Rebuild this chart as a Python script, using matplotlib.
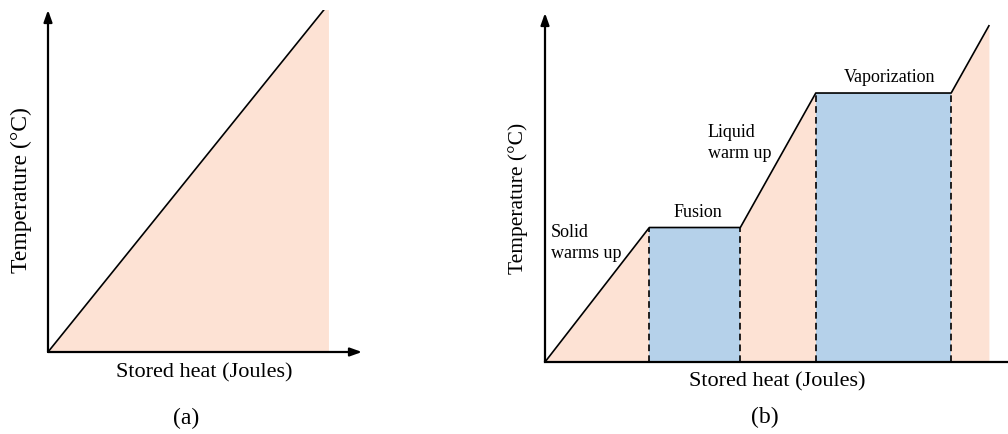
import matplotlib
matplotlib.use("Agg")
import matplotlib.pyplot as plt

# ---- data ----
heat_a = [0, 102]          # stored heat (arbitrary units), panel (a)
temp_a = [0, 102]          # temperature (arbitrary units), panel (a)

heat_b = [0, 23.5, 44, 61, 91.5, 100]   # breakpoints, panel (b)
temp_b = [0, 40, 40, 80, 80, 100]
phase_changes = [(23.5, 44, 40), (61, 91.5, 80)]  # (start, end, temperature)

xlabel = "Stored heat (Joules)"
ylabel = "Temperature (°C)"
stage_labels = ["Solid\nwarms up", "Fusion", "Liquid\nwarm up", "Vaporization"]

PINK = "#FDE2D4"
BLUE = "#B5D1EA"

plt.rcParams['font.family'] = ['Liberation Serif', 'DejaVu Serif']

W, H = 1008, 435
fig = plt.figure(figsize=(W / 100, H / 100), dpi=100)

def px_axes(x0, y0, x1, y1):
    return fig.add_axes([x0 / W, 1 - y1 / H, (x1 - x0) / W, (y1 - y0) / H])

AP = dict(arrowstyle="-|>,head_length=0.7,head_width=0.25",
          lw=1.6, color='black', shrinkA=0, shrinkB=0)

# ---- panel (a) ----
axa = px_axes(48, 11, 362, 353)
axa.set_xlim(0, 114.2)
axa.set_ylim(0, 100.3)
axa.fill_between(heat_a, temp_a, 0, color=PINK, lw=0)
axa.plot(heat_a, temp_a, color='black', lw=1.2)
axa.axis('off')
axa.annotate("", xy=(0, 1.0), xytext=(0, 0), xycoords='axes fraction',
             arrowprops=AP, annotation_clip=False)
axa.annotate("", xy=(1.0, 0), xytext=(0, 0), xycoords='axes fraction',
             arrowprops=AP, annotation_clip=False)

fig.text(21 / W, 1 - 190 / H, ylabel, rotation=90, ha='center', va='center', fontsize=17)
fig.text(204 / W, 1 - 373 / H, xlabel, ha='center', va='center', fontsize=16)
fig.text(186 / W, 1 - 418 / H, "(a)", ha='center', va='center', fontsize=17)

# ---- panel (b) ----
axb = px_axes(545, 14, 1008, 363)
axb.set_xlim(0, 104.3)
axb.set_ylim(0, 103.8)
axb.fill_between(heat_b, temp_b, 0, color=PINK, lw=0)
for x0, x1, t in phase_changes:
    axb.fill_between([x0, x1], [t, t], 0, color=BLUE, lw=0)
    axb.plot([x0, x0], [0, t], color='black', lw=1.2, ls=(0, (4, 2.5)))
    axb.plot([x1, x1], [0, t], color='black', lw=1.2, ls=(0, (4, 2.5)))
axb.plot(heat_b, temp_b, color='black', lw=1.2)
axb.axis('off')
axb.annotate("", xy=(0, 1.0), xytext=(0, 0), xycoords='axes fraction',
             arrowprops=AP, annotation_clip=False)
axb.plot([0, 1.02], [0, 0], transform=axb.transAxes, color='black', lw=1.6, clip_on=False)

fig.text(518 / W, 1 - 198 / H, ylabel, rotation=90, ha='center', va='center', fontsize=15.5)
fig.text(777 / W, 1 - 382 / H, xlabel, ha='center', va='center', fontsize=16)
fig.text(765 / W, 1 - 417 / H, "(b)", ha='center', va='center', fontsize=17)

fig.text(551 / W, 1 - 243 / H, stage_labels[0], ha='left', va='center', fontsize=13, linespacing=1.3)
fig.text(698 / W, 1 - 213 / H, stage_labels[1], ha='center', va='center', fontsize=13)
fig.text(708 / W, 1 - 143 / H, stage_labels[2], ha='left', va='center', fontsize=13, linespacing=1.3)
fig.text(890 / W, 1 - 78 / H, stage_labels[3], ha='center', va='center', fontsize=13)

fig.savefig("out.png", dpi=100)
